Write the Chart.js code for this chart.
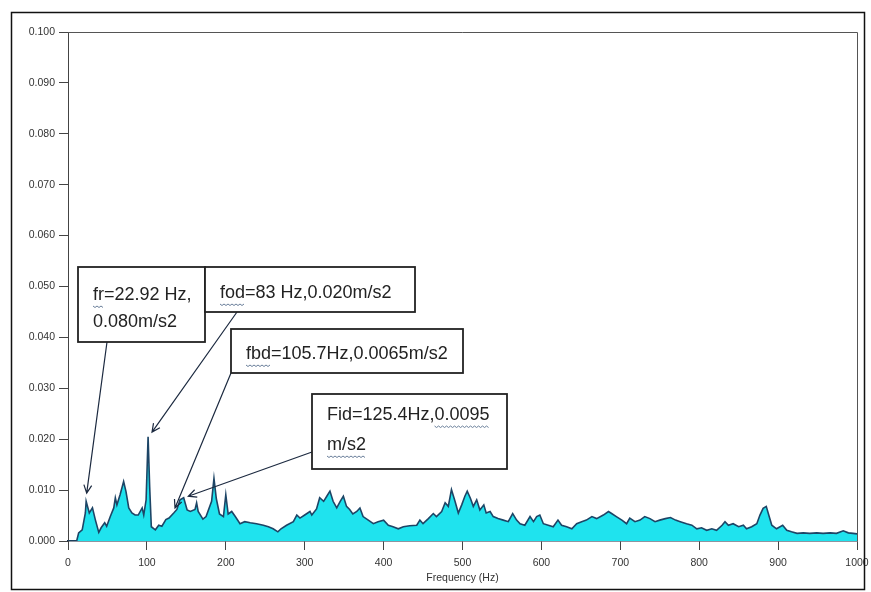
<!DOCTYPE html>
<html>
<head>
<meta charset="utf-8">
<script src="https://cdn.jsdelivr.net/npm/chart.js@4.4.1/dist/chart.umd.min.js"></script>
<style>
  html, body { margin: 0; padding: 0; background: #fff; }
  canvas { display: block; }
</style>
</head>
<body>
<canvas id="spectrum" width="871" height="592"></canvas>
<script>
// spectrum (Hz, m/s2)
var freq = [0, 11, 13.5, 18, 22, 23, 27, 31, 34.6, 39, 42, 46.5, 49, 53.6, 58, 60, 62, 66, 70.5, 73.5,
  77, 81, 85, 89, 94, 96, 99, 101.5, 103.5, 105.6, 110.7, 115, 119, 124, 128, 134, 138, 142, 146.6, 151,
  155, 161, 163, 165, 171, 175, 182, 185, 188, 192, 197, 200, 203, 207.5, 212, 218, 224, 231, 239, 247.6,
  254, 260, 266, 270, 277, 285.6, 290, 294, 300, 306.7, 309, 315, 319, 324, 328, 332, 336, 340.6, 345, 349,
  353, 357, 361, 366, 370, 374, 380.6, 387, 393, 400, 406, 412, 418.6, 425, 433, 442, 446, 450, 456.7, 463,
  467, 473.6, 478, 482, 486, 490.5, 494.7, 499, 503, 506, 510, 513.7, 518, 522, 527, 530, 535, 539, 545, 551.7,
  558, 563.6, 568.6, 573, 579, 585.6, 590, 594, 598, 602.5, 608.7, 615, 621, 625.6, 632, 638.6, 644.7, 651, 657, 664,
  670, 678.5, 685, 689, 695, 702, 708, 712, 718.6, 725, 731, 737.6, 744, 750, 757, 763.6, 770, 776, 784, 790.7,
  797, 803, 809.5, 816, 822, 829, 832.7, 837, 843, 850, 856, 860, 866.5, 873, 877, 881, 885, 887.6, 892, 898,
  905.8, 911, 917, 924, 932, 940, 949, 957, 966, 974, 982.6, 989, 995, 1000];
var amp = [0, 0, 0.0016, 0.0022, 0.0055, 0.0078, 0.0055, 0.0065, 0.0042, 0.0017, 0.0026, 0.0036, 0.0029, 0.0048, 0.0065, 0.0085, 0.0071, 0.0091, 0.0117, 0.0097,
  0.0065, 0.0055, 0.0051, 0.0051, 0.0065, 0.0051, 0.0081, 0.0205, 0.0107, 0.0028, 0.0022, 0.0031, 0.0029, 0.0042, 0.0045, 0.0055, 0.0062, 0.0081, 0.0085, 0.0061,
  0.0058, 0.0062, 0.0075, 0.0058, 0.0043, 0.0048, 0.0078, 0.0123, 0.0083, 0.0053, 0.0048, 0.0091, 0.0053, 0.0058, 0.0048, 0.0034, 0.0038, 0.0036, 0.0034, 0.0031,
  0.0028, 0.0024, 0.0018, 0.0024, 0.0031, 0.0038, 0.0051, 0.0045, 0.0051, 0.0058, 0.0051, 0.0063, 0.0085, 0.0078, 0.0088, 0.0098, 0.0078, 0.0065, 0.0078, 0.0088,
  0.0068, 0.0062, 0.0053, 0.0058, 0.0065, 0.0048, 0.0041, 0.0034, 0.0038, 0.0041, 0.0031, 0.0028, 0.0024, 0.0028, 0.0030, 0.0031, 0.0041, 0.0034, 0.0044, 0.0054,
  0.0048, 0.0058, 0.0075, 0.0068, 0.0101, 0.0078, 0.0055, 0.0071, 0.0088, 0.0098, 0.0084, 0.0068, 0.0081, 0.0061, 0.0071, 0.0055, 0.0058, 0.0048, 0.0044, 0.0041,
  0.0038, 0.0054, 0.0041, 0.0034, 0.0031, 0.0048, 0.0038, 0.0048, 0.0051, 0.0034, 0.0031, 0.0028, 0.0041, 0.0031, 0.0028, 0.0024, 0.0034, 0.0038, 0.0041, 0.0048,
  0.0044, 0.0051, 0.0058, 0.0054, 0.0048, 0.0041, 0.0034, 0.0045, 0.0038, 0.0041, 0.0048, 0.0044, 0.0038, 0.0041, 0.0044, 0.0046, 0.0041, 0.0038, 0.0034, 0.0031,
  0.0024, 0.0026, 0.0021, 0.0024, 0.0021, 0.0031, 0.0038, 0.0031, 0.0034, 0.0028, 0.0031, 0.0024, 0.0028, 0.0034, 0.0051, 0.0064, 0.0068, 0.0054, 0.0031, 0.0024,
  0.0031, 0.0021, 0.0018, 0.0015, 0.0016, 0.0015, 0.0016, 0.0015, 0.0016, 0.0015, 0.0020, 0.0016, 0.0015, 0.0014];

var xTicks = ['0', '100', '200', '300', '400', '500', '600', '700', '800', '900', '1000'];
var yTicks = ['0.000', '0.010', '0.020', '0.030', '0.040', '0.050', '0.060', '0.070', '0.080', '0.090', '0.100'];

// callout boxes, arrow tips point at (Hz, m/s2)
var noteText = [
  ['fr=22.92 Hz,', '0.080m/s2'],
  ['fod=83 Hz,0.020m/s2'],
  ['fbd=105.7Hz,0.0065m/s2'],
  ['Fid=125.4Hz,0.0095', 'm/s2']
];
var noteTip = [[23.7, 0.0094], [106.5, 0.0214], [135.6, 0.0065], [152.5, 0.0088]];

var noteBox = [[78, 267, 127, 75], [205, 267, 210, 45], [231, 329, 232, 44], [312, 394, 195, 75]];
var noteTail = [[107, 342], [237, 312], [231, 373], [312, 452]];
var noteLineY = [[295, 322], [293], [354], [415, 445]];
// spell-check squiggles: [line, first char, last char]
var noteWavy = [[[0, 0, 2]], [[0, 0, 3]], [[0, 0, 3]], [[0, 12, 18], [1, 0, 4]]];

var frame = {
  id: 'frame',
  beforeDraw: function(chart) {
    var ctx = chart.ctx;
    ctx.save();
    ctx.fillStyle = '#fff';
    ctx.fillRect(0, 0, chart.width, chart.height);
    ctx.restore();
  },
  afterDraw: function(chart) {
    var ctx = chart.ctx, a = chart.chartArea;
    var xs = chart.scales.x, ys = chart.scales.y;
    ctx.save();
    // outer frame
    ctx.strokeStyle = '#111';
    ctx.lineWidth = 1.5;
    ctx.strokeRect(11.5, 12.5, 853, 577);
    // top and right of plot box
    ctx.strokeStyle = '#555';
    ctx.lineWidth = 1;
    ctx.beginPath();
    ctx.moveTo(a.left, a.top + 0.5);
    ctx.lineTo(a.right + 0.5, a.top + 0.5);
    ctx.lineTo(a.right + 0.5, a.bottom);
    ctx.stroke();

    // arrows
    ctx.strokeStyle = '#1c2a40';
    ctx.lineWidth = 1.2;
    for (var i = 0; i < noteText.length; i++) {
      var x0 = noteTail[i][0], y0 = noteTail[i][1];
      var x1 = xs.getPixelForValue(noteTip[i][0]);
      var y1 = ys.getPixelForValue(noteTip[i][1]);
      var ang = Math.atan2(y1 - y0, x1 - x0);
      ctx.beginPath();
      ctx.moveTo(x0, y0);
      ctx.lineTo(x1, y1);
      ctx.moveTo(x1 - 9 * Math.cos(ang - 0.45), y1 - 9 * Math.sin(ang - 0.45));
      ctx.lineTo(x1, y1);
      ctx.lineTo(x1 - 9 * Math.cos(ang + 0.45), y1 - 9 * Math.sin(ang + 0.45));
      ctx.stroke();
    }

    // boxes and text
    ctx.font = '18px "Liberation Sans", Arial, sans-serif';
    ctx.textBaseline = 'middle';
    for (var j = 0; j < noteText.length; j++) {
      var b = noteBox[j];
      ctx.fillStyle = '#fff';
      ctx.fillRect(b[0], b[1], b[2], b[3]);
      ctx.strokeStyle = '#222';
      ctx.lineWidth = 1.8;
      ctx.strokeRect(b[0], b[1], b[2], b[3]);
      ctx.fillStyle = '#222';
      var tx = b[0] + 15;
      for (var k = 0; k < noteText[j].length; k++) {
        ctx.fillText(noteText[j][k], tx, noteLineY[j][k]);
      }
      ctx.strokeStyle = '#6a7f9a';
      ctx.lineWidth = 1;
      noteWavy[j].forEach(function(w) {
        var s = noteText[j][w[0]];
        var xa = tx + ctx.measureText(s.slice(0, w[1])).width;
        var xb = tx + ctx.measureText(s.slice(0, w[2])).width;
        var yw = noteLineY[j][w[0]] + 11;
        ctx.beginPath();
        for (var px = xa, n = 0; px <= xb; px += 2, n++) {
          if (n === 0) ctx.moveTo(px, yw); else ctx.lineTo(px, yw + (n % 2 ? 1.5 : 0));
        }
        ctx.stroke();
      });
    }
    ctx.restore();
  }
};

var ctx = document.getElementById('spectrum').getContext('2d');
new Chart(ctx, {
  type: 'line',
  data: {
    datasets: [{
      data: freq.map(function(f, i) { return { x: f, y: amp[i] }; }),
      borderColor: '#1d4566',
      borderWidth: 1.6,
      backgroundColor: '#1fe3ee',
      fill: 'origin',
      pointRadius: 0,
      tension: 0
    }]
  },
  options: {
    responsive: false,
    animation: false,
    layout: { padding: { top: 32, right: 14, left: 0, bottom: 0 } },
    plugins: { legend: { display: false }, tooltip: { enabled: false } },
    scales: {
      x: {
        type: 'linear',
        min: 0,
        max: 1000,
        afterBuildTicks: function(s) { s.ticks = xTicks.map(function(t) { return { value: parseFloat(t) }; }); },
        afterFit: function(s) { s.height = 51; s.paddingLeft = 0; s.paddingRight = 0; },
        ticks: {
          color: '#333', font: { size: 10.5, family: 'Liberation Sans' }, padding: 7, maxRotation: 0,
          callback: function(v, i) { return xTicks[i]; }
        },
        grid: { drawOnChartArea: false, tickLength: 9, color: '#444' },
        border: { color: '#1c2a40', width: 1.5 },
        title: {
          display: true, text: 'Frequency (Hz)', color: '#333',
          font: { size: 10.5, family: 'Liberation Sans' }, padding: { top: 0, bottom: 8 }
        }
      },
      y: {
        min: 0,
        max: 0.1,
        afterBuildTicks: function(s) { s.ticks = yTicks.map(function(t) { return { value: parseFloat(t) }; }); },
        afterFit: function(s) { s.width = 68; s.paddingTop = 0; s.paddingBottom = 0; },
        ticks: {
          color: '#333', font: { size: 10.5, family: 'Liberation Sans' }, padding: 4,
          callback: function(v, i) { return yTicks[i]; }
        },
        grid: { drawOnChartArea: false, tickLength: 9, color: '#444' },
        border: { color: '#444', width: 1 }
      }
    }
  },
  plugins: [frame]
});
</script>
</body>
</html>
